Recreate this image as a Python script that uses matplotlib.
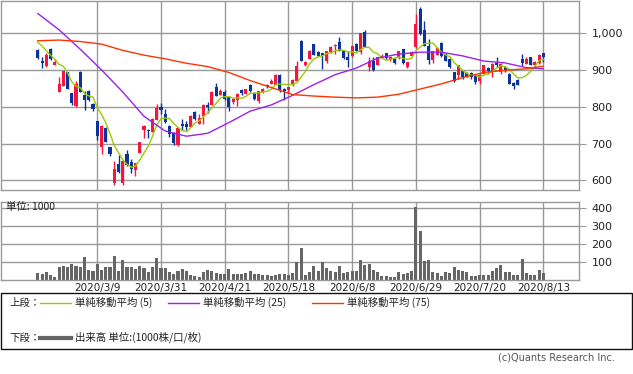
import numpy as np
import pandas as pd
import matplotlib
matplotlib.use("Agg")
import matplotlib.pyplot as plt
from matplotlib.patches import Rectangle
from matplotlib.lines import Line2D

plt.rcParams['font.family'] = ['DejaVu Sans', 'Noto Sans CJK JP']

# ---------------- data ----------------
opens = [955, 925, 910, 957, 913, 841, 856, 893, 837, 801, 895, 833, 842, 808, 760, 691, 743, 691, 592, 644,
         592, 673, 650, 628, 675, 736, 738, 731, 765, 799, 781, 747, 730, 695, 754, 754, 745, 785, 754, 775,
         805, 806, 853, 833, 839, 826, 812, 817, 846, 835, 860, 837, 815, 840, 858, 862, 860, 887, 849, 846,
         858, 871, 979, 912, 930, 970, 948, 945, 925, 948, 964, 975, 952, 934, 938, 970, 948, 1002, 907, 925,
         914, 932, 945, 927, 930, 932, 957, 907, 939, 961, 1065, 1008, 965, 927, 941, 973, 943, 930, 893, 885,
         898, 891, 891, 885, 869, 890, 905, 893, 918, 893, 907, 889, 864, 873, 930, 916, 934, 914, 918, 945]
highs = [957, 934, 946, 959, 929, 880, 897, 895, 838, 871, 896, 842, 845, 810, 762, 751, 745, 692, 652, 668,
         655, 682, 657, 648, 705, 750, 740, 770, 808, 810, 795, 750, 732, 745, 767, 761, 778, 788, 779, 808,
         812, 843, 864, 847, 845, 828, 824, 838, 847, 849, 862, 840, 844, 851, 862, 875, 888, 888, 851, 853,
         875, 925, 981, 925, 954, 971, 950, 946, 952, 965, 970, 988, 954, 952, 968, 972, 1001, 1009, 934, 934,
         936, 944, 947, 938, 932, 951, 958, 922, 950, 1051, 1071, 1033, 985, 952, 961, 975, 945, 932, 895, 914,
         900, 893, 893, 887, 889, 914, 907, 919, 934, 918, 911, 891, 866, 875, 944, 936, 936, 924, 943, 946]
lows = [930, 904, 908, 927, 912, 840, 855, 848, 806, 799, 840, 792, 815, 789, 711, 672, 703, 667, 587, 619,
        587, 640, 620, 611, 674, 716, 716, 731, 765, 781, 757, 717, 695, 694, 736, 736, 744, 765, 752, 754,
        783, 805, 828, 832, 818, 788, 808, 801, 833, 834, 840, 818, 810, 838, 851, 861, 859, 840, 819, 838,
        856, 870, 924, 911, 929, 940, 938, 903, 920, 946, 943, 951, 930, 907, 936, 950, 943, 962, 896, 896,
        912, 931, 930, 925, 917, 930, 917, 905, 937, 959, 996, 965, 916, 920, 940, 935, 923, 905, 866, 875,
        875, 880, 876, 861, 862, 888, 888, 880, 907, 890, 893, 861, 849, 858, 910, 915, 912, 905, 916, 921]
closes = [933, 920, 941, 930, 921, 863, 896, 849, 810, 862, 841, 817, 817, 793, 720, 749, 704, 671, 630, 623,
          653, 641, 632, 646, 704, 749, 733, 768, 796, 792, 758, 725, 702, 742, 749, 745, 776, 768, 770, 805,
          800, 841, 829, 844, 822, 799, 822, 835, 837, 847, 842, 822, 842, 849, 855, 871, 887, 846, 844, 853,
          873, 910, 925, 921, 952, 941, 939, 939, 950, 963, 968, 952, 932, 927, 966, 952, 999, 963, 925, 900,
          934, 939, 932, 936, 919, 950, 918, 921, 948, 1024, 997, 966, 928, 950, 959, 939, 925, 907, 869, 912,
          882, 882, 882, 868, 887, 912, 896, 917, 914, 916, 898, 862, 855, 860, 920, 930, 913, 922, 941, 934]
volumes = [38, 34, 43, 28, 17, 75, 79, 74, 91, 79, 70, 130, 55, 51, 91, 57, 74, 74, 136, 51,
           113, 74, 74, 62, 79, 68, 45, 74, 125, 68, 66, 43, 32, 49, 62, 51, 28, 25, 17, 45,
           55, 51, 38, 34, 32, 62, 32, 32, 32, 40, 51, 34, 34, 28, 28, 25, 28, 32, 32, 28,
           38, 100, 179, 28, 43, 79, 51, 98, 67, 50, 44, 78, 39, 44, 50, 50, 111, 83, 89, 56,
           44, 22, 22, 17, 17, 44, 35, 39, 50, 406, 272, 106, 111, 44, 39, 22, 44, 39, 72, 56,
           50, 44, 22, 22, 28, 28, 28, 50, 67, 83, 44, 44, 28, 28, 117, 39, 28, 28, 56, 39]
# first MA(5) values (need history before the first bar)
ma5_head = [975, 965, 952, 940]
# MA(25) and MA(75) every 5 bars (and last bar)
ma25_read = [1053, 1009, 956, 900, 840, 774, 734, 720, 728, 757, 788, 805, 831, 860, 887, 905, 932, 943,
             948, 948, 938, 924, 919, 906, 903]
ma75_read = [979, 981, 977, 970, 953, 940, 930, 918, 909, 893, 871, 852, 833, 829, 826, 824, 826, 834,
             848, 862, 879, 893, 899, 903, 910]
date_labels = ['2020/3/9', '2020/3/31', '2020/4/21', '2020/5/18', '2020/6/8', '2020/6/29', '2020/7/20', '2020/8/13']
price_ticks = [600, 700, 800, 900, 1000]
vol_ticks = [100, 200, 300, 400]

# ---------------- styling ----------------
RED = '#f5163f'
BLUE = '#0b3399'
GREEN = '#99cc00'
PURPLE = '#9922ee'
ORANGE = '#ff3300'
GRAY = '#999999'
VOLC = '#666666'
TXT = '#222222'
JP = ['Noto Sans CJK JP', 'DejaVu Sans']

W, H = 633, 374
fig = plt.figure(figsize=(W / 100, H / 100), dpi=100)


def rect(l, t, r, b):
    return [l / W, 1 - b / H, (r - l) / W, (b - t) / H]


n = len(closes)
x = np.arange(n)
O = np.array(opens, float); C = np.array(closes, float)
Hh = np.array(highs, float); Ll = np.array(lows, float)
up = C >= O
cols = np.where(up, RED, BLUE)

ma5 = pd.Series(closes, dtype=float).rolling(5).mean().to_numpy()
ma5[:4] = ma5_head
ma_x = list(range(0, n, 5)) + [n - 1]

ax = fig.add_axes(rect(1, 1, 579, 190))
axv = fig.add_axes(rect(1, 202, 579, 280))

for a in (ax, axv):
    for s in a.spines.values():
        s.set_color(GRAY)
        s.set_linewidth(1.0)
    a.set_xlim(-8.66, 127.4)
    a.yaxis.tick_right()
    a.tick_params(axis='y', length=5, color=GRAY, labelsize=8, labelcolor=TXT, pad=4)
    a.tick_params(axis='x', length=0)
    a.set_xticks(list(range(14, n, 15)))
    a.grid(True, color=GRAY, linewidth=1.0)
    a.set_axisbelow(True)

ax.set_ylim(574, 1087)
ax.set_yticks(price_ticks)
ax.set_yticklabels([f'{v:,}' for v in price_ticks])
ax.set_xticklabels([])

# candles
ax.vlines(x, Ll, Hh, colors=cols, linewidth=1.0, zorder=2)
body = np.maximum(np.abs(C - O), 1.5)
ax.bar(x, body, bottom=np.minimum(O, C), width=0.72, color=cols, linewidth=0, zorder=2)

ax.plot(x, ma5, color=GREEN, lw=1.0, zorder=3)
ax.plot(ma_x, ma25_read, color=PURPLE, lw=1.0, zorder=3)
ax.plot(ma_x, ma75_read, color=ORANGE, lw=1.0, zorder=3)

# volume
axv.bar(x, volumes, width=0.72, color=VOLC, linewidth=0, zorder=2)
axv.set_ylim(0, 435)
axv.set_yticks(vol_ticks)
axv.set_xticklabels(date_labels, fontsize=7.5, color=TXT)
axv.tick_params(axis='x', pad=2)
axv.text(0.008, 0.93, '単位: 1000', transform=axv.transAxes, fontsize=7.5, color=TXT,
         ha='left', va='center', family=JP)

# legend box
fig.patches.append(Rectangle((0.5 / W, 1 - 349 / H), 631.5 / W, 56 / H, transform=fig.transFigure,
                             fill=False, edgecolor='#111111', linewidth=1.0))


def fy(y):
    return 1 - y / H


def legline(x0, x1, y, color, lw):
    fig.lines.append(Line2D([x0 / W, x1 / W], [fy(y), fy(y)], transform=fig.transFigure, color=color, lw=lw))


ly1, ly2 = 302.5, 337.5
fig.text(9 / W, fy(ly1), '上段：', fontsize=7.5, family=JP, color=TXT, va='center')
legline(40, 71, ly1, GREEN, 1.0)
fig.text(75 / W, fy(ly1), '単純移動平均 (5)', fontsize=7.5, family=JP, color=TXT, va='center')
legline(168, 199, ly1, PURPLE, 1.0)
fig.text(203 / W, fy(ly1), '単純移動平均 (25)', fontsize=7.5, family=JP, color=TXT, va='center')
legline(312, 343, ly1, ORANGE, 1.0)
fig.text(347 / W, fy(ly1), '単純移動平均 (75)', fontsize=7.5, family=JP, color=TXT, va='center')
fig.text(9 / W, fy(ly2), '下段：', fontsize=7.5, family=JP, color=TXT, va='center')
legline(40, 71, ly2, VOLC, 3.0)
fig.text(75 / W, fy(ly2), '出来高 単位:(1000株/口/枚)', fontsize=7.5, family=JP, color=TXT, va='center')

fig.text(615 / W, fy(358), '(c)Quants Research Inc.', fontsize=7, color='#555555', ha='right', va='center')

fig.savefig('out.png', dpi=100)
